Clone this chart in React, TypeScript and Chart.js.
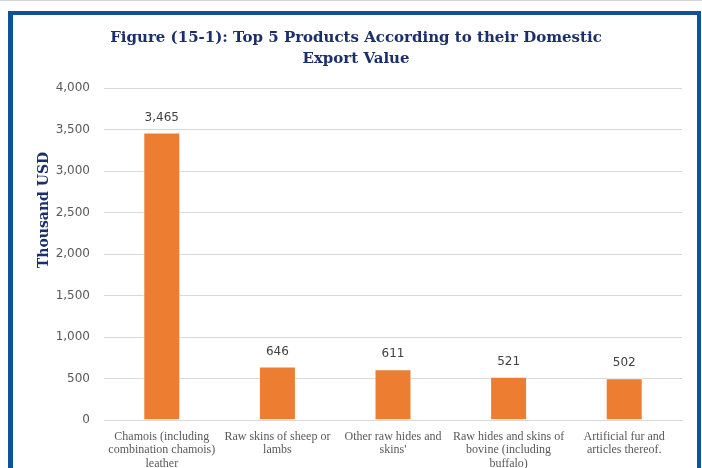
import React, { useEffect, useRef } from "react";
import { Chart, registerables } from "chart.js";

Chart.register(...registerables);

const categories: string[][] = [
  ["Chamois (including", "combination chamois)", "leather"],
  ["Raw skins of sheep or", "lambs"],
  ["Other raw hides and", "skins'"],
  ["Raw hides and skins of", "bovine (including", "buffalo)"],
  ["Artificial fur and", "articles thereof."],
];
const values: number[] = [3465, 646, 611, 521, 502];
const titleLines: string[] = [
  "Figure (15-1): Top 5 Products According to their Domestic",
  "Export Value",
];
const yAxisTitle = "Thousand USD";
const yMin = 0;
const yMax = 4000;
const yStep = 500;

const NAVY = "#1B2F6B";
const BLUE = "#0E5298";

const fmt = (v: number) => v.toLocaleString("en-US");

const valueLabels = {
  id: "valueLabels",
  afterDatasetsDraw(chart: any) {
    const ctx = chart.ctx;
    const meta = chart.getDatasetMeta(0);
    ctx.save();
    ctx.font = "12px 'DejaVu Sans'";
    ctx.fillStyle = "#404040";
    ctx.textAlign = "center";
    ctx.textBaseline = "middle";
    meta.data.forEach((bar: any, i: number) => {
      ctx.fillText(fmt(values[i]), bar.x, bar.y - 15);
    });
    ctx.restore();
  },
};

const yTitle = {
  id: "yTitle",
  afterDraw(chart: any) {
    const ctx = chart.ctx;
    ctx.save();
    ctx.translate(44, 210);
    ctx.rotate(-Math.PI / 2);
    ctx.font = "bold 14px 'DejaVu Serif'";
    ctx.fillStyle = NAVY;
    ctx.textAlign = "center";
    ctx.textBaseline = "middle";
    ctx.fillText(yAxisTitle, 0, 0);
    ctx.restore();
  },
};

export default function App() {
  const ref = useRef<HTMLCanvasElement | null>(null);
  useEffect(() => {
    if (!ref.current) return;
    const chart = new Chart(ref.current, {
      type: "bar",
      data: {
        labels: categories,
        datasets: [
          {
            data: values,
            backgroundColor: "#ED7D31",
            borderColor: "rgba(255,255,255,0.7)",
            borderWidth: 1,
            barPercentage: 0.32,
            categoryPercentage: 1,
          },
        ],
      },
      options: {
        animation: false,
        responsive: false,
        layout: { padding: { top: 0, right: 20, bottom: 0, left: 30 } },
        plugins: {
          legend: { display: false },
          tooltip: { enabled: false },
          title: {
            display: true,
            text: titleLines,
            color: NAVY,
            font: { family: "'DejaVu Serif'", size: 15, weight: "bold", lineHeight: 1.4 },
            padding: { top: 28, bottom: 18 },
          },
        },
        scales: {
          x: {
            grid: { display: false },
            border: { display: true, color: "#D9D9D9" },
            ticks: {
              autoSkip: false,
              maxRotation: 0,
              minRotation: 0,
              padding: 2,
              color: "#595959",
              font: { family: "'Liberation Serif'", size: 12, lineHeight: 1.12 },
            },
            afterFit: (scale: any) => {
              scale.height = 48;
            },
          },
          y: {
            min: yMin,
            max: yMax,
            ticks: {
              stepSize: yStep,
              padding: 14,
              color: "#595959",
              font: { family: "'DejaVu Sans'", size: 12 },
              callback: (v: any) => fmt(Number(v)),
            },
            grid: { color: "#D9D9D9", drawTicks: false },
            border: { display: false },
            afterFit: (scale: any) => {
              scale.width = 74;
            },
          },
        },
      },
      plugins: [valueLabels, yTitle],
    });
    return () => chart.destroy();
  }, []);

  return (
    <div style={{ position: "fixed", left: 0, top: 0, width: 702, height: 468, background: "#fff", overflow: "hidden" }}>
      <canvas ref={ref} width={702} height={468} style={{ position: "absolute", left: 0, top: 0 }} />
      <div style={{ position: "absolute", left: 0, top: 0, width: 702, height: 1, background: "#D4D4D4" }} />
      <div style={{ position: "absolute", left: 8, top: 11, width: 693, height: 4, background: BLUE }} />
      <div style={{ position: "absolute", left: 8, top: 11, width: 5, height: 457, background: BLUE }} />
      <div style={{ position: "absolute", left: 697, top: 11, width: 4, height: 457, background: BLUE }} />
    </div>
  );
}
